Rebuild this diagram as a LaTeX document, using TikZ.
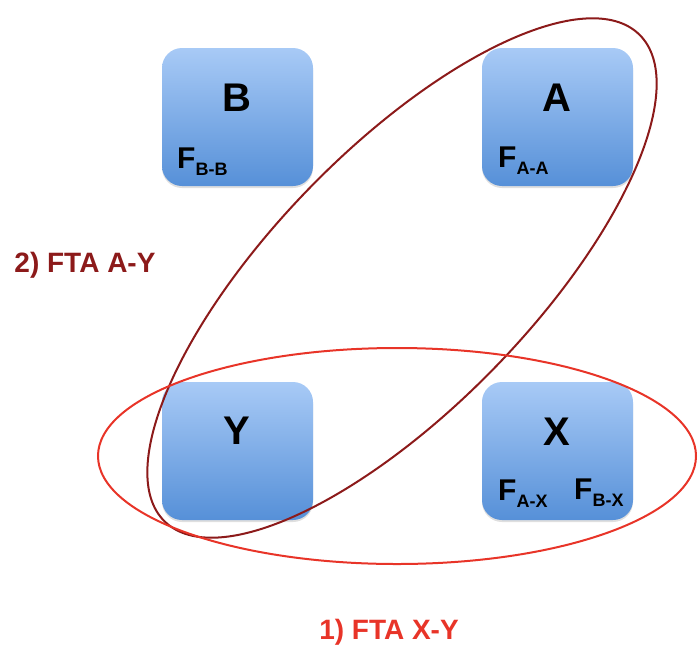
\documentclass[tikz,border=0pt]{standalone}
\usepackage{fontspec}
\setmainfont{Liberation Sans}
\usetikzlibrary{shadows}
\definecolor{boxtop}{RGB}{168,202,246}
\definecolor{boxbot}{RGB}{86,144,216}
\definecolor{darkred}{RGB}{140,26,26}
\definecolor{brightred}{RGB}{232,52,40}
\tikzset{
  box/.style={rounded corners=20pt, top color=boxtop, bottom color=boxbot, draw=none,
    minimum width=151pt, minimum height=138pt, inner sep=0pt,
    drop shadow={shadow xshift=0pt, shadow yshift=-2pt, opacity=0.25}},
  big/.style={font=\fontsize{40}{40}\selectfont\bfseries, anchor=base, inner sep=0pt},
  fl/.style={font=\fontsize{30}{30}\selectfont\bfseries, anchor=base west, inner sep=0pt},
  ftalabel/.style={font=\fontsize{28}{28}\selectfont\bfseries, inner sep=0pt},
  ring/.style={line width=2pt}
}
\newcommand{\fsub}[2]{F\raisebox{-7pt}{\fontsize{18}{18}\selectfont\bfseries #1-#2}}
\begin{document}
\begin{tikzpicture}[x=1pt,y=-1pt]
\useasboundingbox (0,0) rectangle (698,648);
\node[box] (B) at (237.5,117) {};
\node[box] (A) at (557.5,117) {};
\node[box] (Y) at (237.5,451) {};
\node[box] (X) at (557.5,451) {};
\node[big] (Bt) at (237,111) {B};
\node[big] (At) at (557,111) {A};
\node[big] (Yt) at (237,444) {Y};
\node[big] (Xt) at (557,445) {X};
\node[fl] (fbb) at (177,168) {\fsub{B}{B}};
\node[fl] (faa) at (498,167) {\fsub{A}{A}};
\node[fl] (fax) at (498,500) {\fsub{A}{X}};
\node[fl] (fbx) at (574,499) {\fsub{B}{X}};
\draw[ring, darkred, shift={(402,278)}, rotate=45.75] (0,0) ellipse [x radius=340pt, y radius=129pt];
\draw[ring, brightred] (397,456) ellipse [x radius=299pt, y radius=108pt];
\node[ftalabel, text=darkred] (l2) at (85,265) {2) FTA A-Y};
\node[ftalabel, text=brightred] (l1) at (389,632) {1) FTA X-Y};
\end{tikzpicture}
\end{document}
